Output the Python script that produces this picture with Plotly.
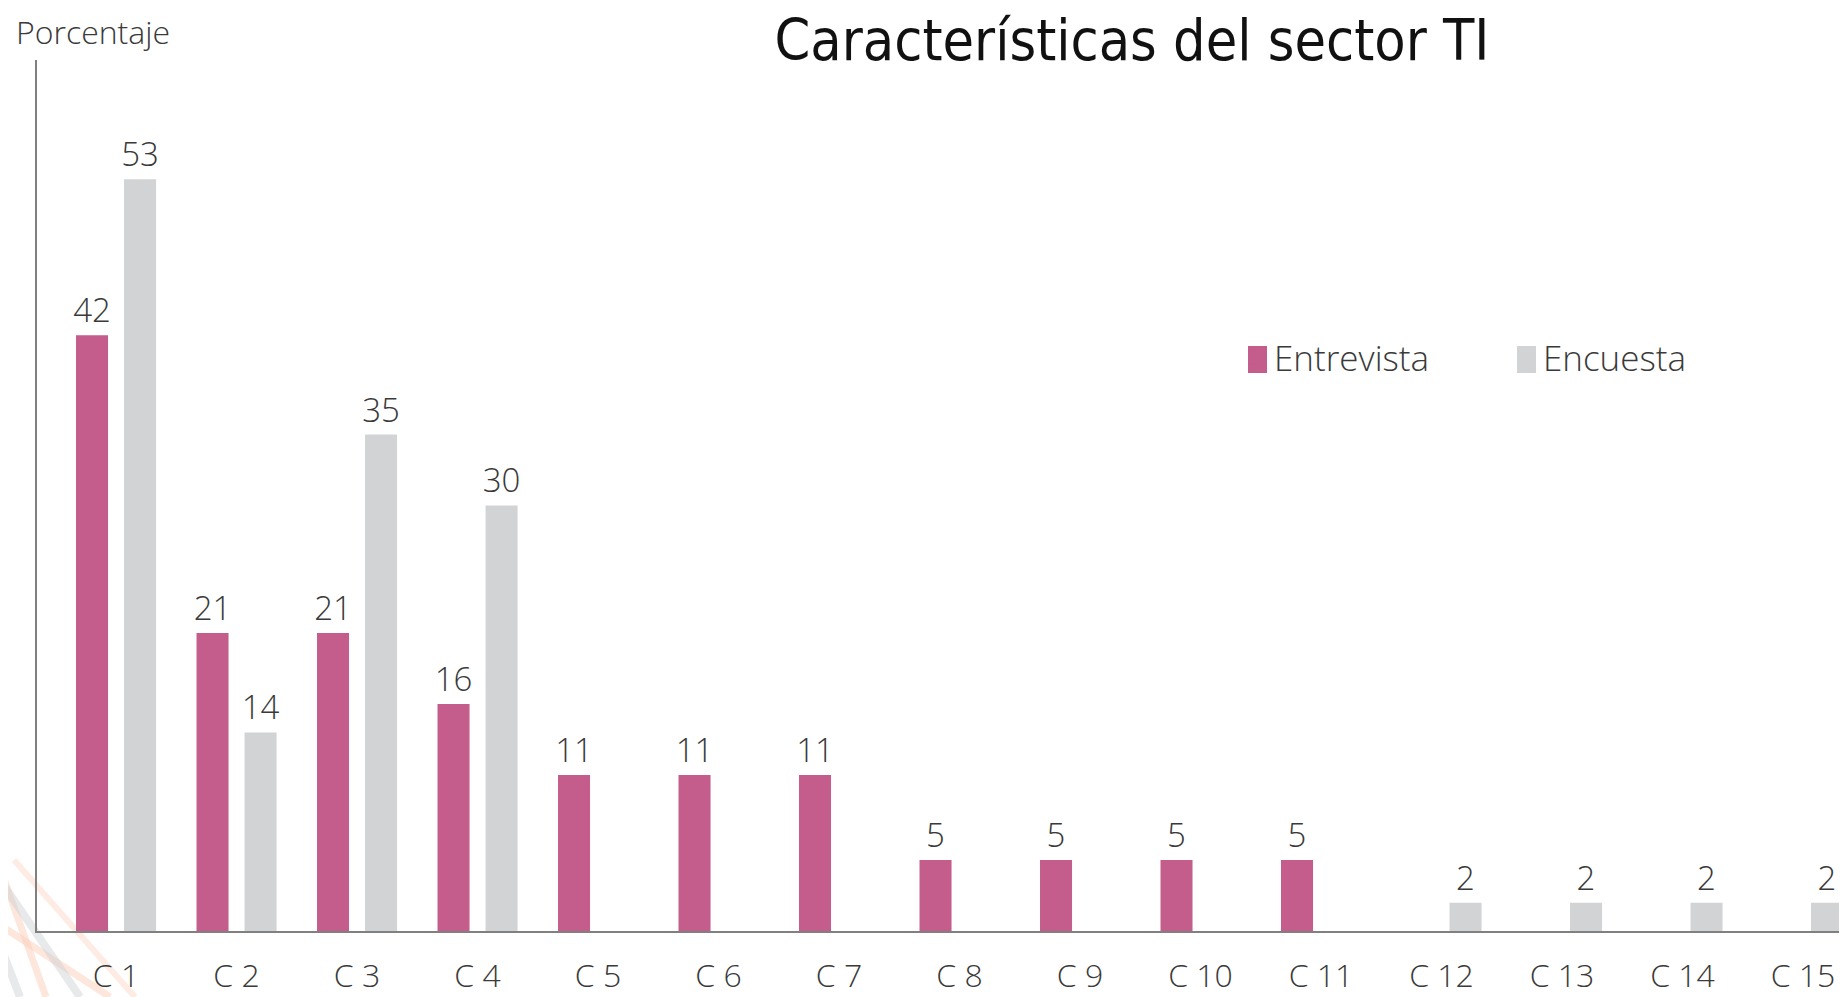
import plotly.graph_objects as go

categories = ["C 1", "C 2", "C 3", "C 4", "C 5", "C 6", "C 7", "C 8",
              "C 9", "C 10", "C 11", "C 12", "C 13", "C 14", "C 15"]
entrevista = [42, 21, 21, 16, 11, 11, 11, 5, 5, 5, 5, None, None, None, None]
encuesta = [53, 14, 35, 30, None, None, None, None, None, None, None, 2, 2, 2, 2]

PINK = "#C45D8B"
GRAY = "#D2D3D5"
TXT = "#3A3A3A"
FONT = "Open Sans, Noto Sans, sans-serif"

# the page body adds an 8px offset; figure is sized to fill the rest of the window
OFF = 8
W, H = 1847 - OFF, 997 - OFF
L, R, T = 37 - OFF, 0, 60 - OFF
B = H - (931 - OFF)
PW, PH = W - L - R, H - T - B


def paper(xw, yw):
    """window pixel -> paper coordinates"""
    return (xw - OFF - L) / PW, (H - B - (yw - OFF)) / PH


fig = go.Figure()
fig.add_trace(go.Bar(
    name="Entrevista", x=categories, y=entrevista, marker=dict(color=PINK, line=dict(width=0)),
    texttemplate="%{y}", textposition="outside", cliponaxis=False, constraintext="none",
    textfont=dict(size=33, color=TXT, family=FONT, weight=300),
))
fig.add_trace(go.Bar(
    name="Encuesta", x=categories, y=encuesta, marker=dict(color=GRAY, line=dict(width=0)),
    texttemplate="%{y}", textposition="outside", cliponaxis=False, constraintext="none",
    textfont=dict(size=33, color=TXT, family=FONT, weight=300),
))

# decorative background strokes (bottom-left corner)
deco = [
    ((0, 868), (46, 997), "rgba(252,205,185,0.5)", 7),
    ((0, 925), (110, 997), "rgba(252,205,185,0.5)", 7),
    ((14, 860), (135, 997), "rgba(252,205,185,0.4)", 6),
    ((0, 880), (80, 997), "rgba(205,207,210,0.45)", 8),
    ((0, 945), (20, 997), "rgba(205,207,210,0.45)", 8),
]
shapes = []
for (x0, y0), (x1, y1), col, wdt in deco:
    a = paper(x0, y0)
    b = paper(x1, y1)
    shapes.append(dict(type="line", xref="paper", yref="paper", x0=a[0], y0=a[1], x1=b[0], y1=b[1],
                       line=dict(color=col, width=wdt), layer="below"))

# larger legend swatches (same colour as the legend's own symbols)
for (x0, x1), col in [((1248, 1267), PINK), ((1517, 1536), GRAY)]:
    a = paper(x0, 346)
    b = paper(x1, 373)
    shapes.append(dict(type="rect", xref="paper", yref="paper", x0=a[0], y0=b[1], x1=b[0], y1=a[1],
                       fillcolor=col, line=dict(width=0), layer="above"))

lx, ly = paper(1234, 358)
ax_, ay_ = paper(14, 31)

fig.update_layout(
    width=W, height=H,
    margin=dict(l=L, r=R, t=T, b=B, pad=0, autoexpand=False),
    paper_bgcolor="white", plot_bgcolor="white",
    barmode="group", bargap=0.203, bargroupgap=0.333,
    font=dict(family=FONT, color=TXT, size=32, weight=300),
    title=dict(text="Características del sector TI", x=(1132 - OFF) / W, xanchor="center",
               y=1 - 32 / H, yanchor="middle",
               font=dict(family="Liberation Sans Narrow, DejaVu Sans Condensed, Open Sans", size=57,
                         color="#111111", weight=400)),
    showlegend=True,
    legend=dict(orientation="h", x=lx, xanchor="left", y=ly, yanchor="middle",
                font=dict(size=35, color=TXT, family=FONT, weight=300),
                entrywidth=224, entrywidthmode="pixels", bgcolor="rgba(0,0,0,0)",
                traceorder="normal"),
    xaxis=dict(type="category", range=[-0.656, 14.365], showline=True, linecolor="#808080",
               linewidth=2, ticks="", showgrid=False, zeroline=False, ticklabelstandoff=16,
               automargin=False,
               tickfont=dict(size=32, color=TXT, family=FONT, weight=300)),
    yaxis=dict(range=[0, 61.4], showline=True, linecolor="#808080", linewidth=1.5,
               showticklabels=False, ticks="", showgrid=False, zeroline=False, automargin=False),
    annotations=[dict(text="Porcentaje", xref="paper", yref="paper",
                      x=ax_, xanchor="left", y=ay_, yanchor="middle", showarrow=False,
                      font=dict(size=32, color=TXT, family=FONT, weight=300))],
    shapes=shapes,
)

fig.write_html("out.html")
